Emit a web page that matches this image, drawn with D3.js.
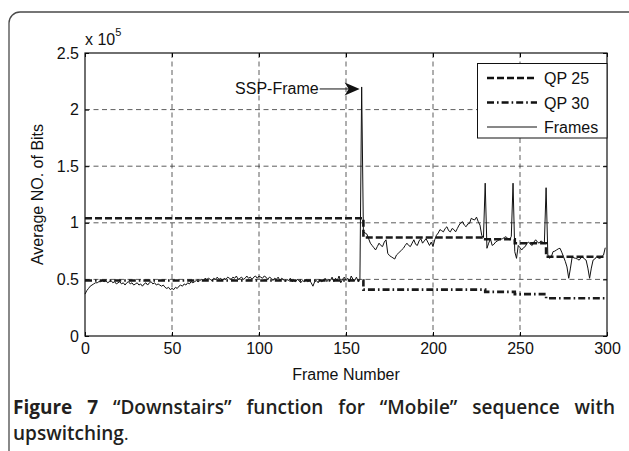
<!DOCTYPE html>
<html>
<head>
<meta charset="utf-8">
<script src="https://cdn.jsdelivr.net/npm/d3@7/dist/d3.min.js"></script>
<style>
  body { margin: 0; background: #fff; }
  svg { display: block; }
</style>
</head>
<body>
<svg width="629" height="451"></svg>
<script>
// values in units of 1e5 bits
const frameValues = [
  0.37, 0.40, 0.42, 0.44, 0.45, 0.46, 0.47, 0.47, 0.48, 0.48,
  0.49, 0.48, 0.49, 0.47, 0.48, 0.49, 0.47, 0.48, 0.46, 0.47,
  0.48, 0.46, 0.47, 0.45, 0.47, 0.48, 0.46, 0.47, 0.45, 0.46,
  0.47, 0.45, 0.46, 0.44, 0.46, 0.47, 0.45, 0.47, 0.48, 0.46,
  0.47, 0.45, 0.46, 0.45, 0.44, 0.45, 0.43, 0.42, 0.43, 0.41,
  0.42, 0.41, 0.43, 0.42, 0.44, 0.45, 0.44, 0.46, 0.45, 0.47,
  0.46, 0.48, 0.47, 0.48, 0.49, 0.48, 0.49, 0.50, 0.49, 0.51,
  0.50, 0.51, 0.50, 0.49, 0.51, 0.50, 0.52, 0.50, 0.51, 0.49,
  0.51, 0.50, 0.52, 0.51, 0.50, 0.52, 0.51, 0.53, 0.50, 0.51,
  0.52, 0.50, 0.51, 0.53, 0.51, 0.52, 0.50, 0.52, 0.53, 0.51,
  0.53, 0.52, 0.51, 0.53, 0.52, 0.50, 0.52, 0.51, 0.49, 0.51,
  0.50, 0.52, 0.49, 0.51, 0.50, 0.48, 0.50, 0.49, 0.51, 0.48,
  0.49, 0.48, 0.50, 0.49, 0.47, 0.49, 0.48, 0.50, 0.48, 0.49,
  0.47, 0.44, 0.48, 0.49, 0.47, 0.50, 0.48, 0.49, 0.51, 0.48,
  0.50, 0.49, 0.52, 0.48, 0.51, 0.49, 0.53, 0.47, 0.50, 0.52,
  0.49, 0.51, 0.48, 0.53, 0.50, 0.49, 0.52, 0.48, 0.50, 2.20,
  0.92, 0.91, 0.90, 0.86, 0.82, 0.80, 0.78, 0.76, 0.79, 0.82,
  0.80, 0.79, 0.83, 0.85, 0.73, 0.71, 0.70, 0.69, 0.68, 0.715,
  0.73, 0.745, 0.76, 0.775, 0.80, 0.82, 0.80, 0.79, 0.82, 0.85,
  0.81, 0.80, 0.84, 0.86, 0.82, 0.84, 0.86, 0.83, 0.80, 0.83,
  0.79, 0.85, 0.89, 0.91, 0.94, 0.93, 0.92, 0.95, 0.965, 0.93,
  0.92, 0.95, 0.94, 0.92, 0.95, 0.98, 1.00, 1.01, 0.98, 0.965,
  0.99, 0.995, 1.04, 1.03, 1.025, 1.05, 1.01, 0.98, 0.89, 0.87,
  1.35, 0.775, 0.82, 0.86, 0.80, 0.81, 0.83, 0.84, 0.85, 0.855,
  0.86, 0.87, 0.877, 0.86, 0.85, 0.88, 1.35, 0.745, 0.686, 0.80,
  0.78, 0.76, 0.78, 0.79, 0.82, 0.83, 0.81, 0.80, 0.83, 0.85,
  0.83, 0.82, 0.84, 0.83, 0.82, 1.31, 0.715, 0.686, 0.70, 0.745,
  0.75, 0.76, 0.77, 0.775, 0.74, 0.70, 0.66, 0.61, 0.51, 0.60,
  0.70, 0.69, 0.686, 0.68, 0.67, 0.69, 0.70, 0.68, 0.67, 0.60,
  0.51, 0.60, 0.67, 0.68, 0.70, 0.69, 0.686, 0.70, 0.715, 0.78
]

// step changes of the average lines
const qpFrames = [0, 160, 230, 247, 265, 299]
const qp25 = [1.04, 0.87, 0.855, 0.82, 0.70, 0.70]
const qp30 = [0.49, 0.41, 0.39, 0.37, 0.333, 0.333]

const xTicks = [0, 50, 100, 150, 200, 250, 300]
const yTicks = [0, 0.5, 1, 1.5, 2, 2.5]
const yTickLabels = ['0', '0.5', '1', '1.5', '2', '2.5']

const legendItems = [
  { label: 'QP 25', dash: '7,3', width: 2.6 },
  { label: 'QP 30', dash: '7,3,1.6,3', width: 2.6 },
  { label: 'Frames', dash: null, width: 1 },
]

const ssp = { frame: 159, value: 2.2, label: 'SSP-Frame' }

const font = '"Liberation Sans", Arial, sans-serif'
const fs = 16
const svg = d3.select('svg')

// outer rounded frame of the figure
svg.append('rect')
  .attr('x', 9).attr('y', 12)
  .attr('width', 640).attr('height', 460)
  .attr('rx', 11)
  .attr('fill', 'none')
  .attr('stroke', '#4a4a4a')
  .attr('stroke-width', 1.3)

const pl = 85, pr = 607, pt = 53, pb = 336
const x = d3.scaleLinear().domain([0, 300]).range([pl, pr])
const y = d3.scaleLinear().domain([0, 2.5]).range([pb, pt])

// grid
const grid = svg.append('g')
grid.selectAll('line.gx')
  .data(xTicks.slice(1, -1))
  .join('line')
  .attr('class', 'gx')
  .attr('x1', d => x(d)).attr('x2', d => x(d))
  .attr('y1', pt).attr('y2', pb)
grid.selectAll('line.gy')
  .data(yTicks.slice(1, -1))
  .join('line')
  .attr('class', 'gy')
  .attr('x1', pl).attr('x2', pr)
  .attr('y1', d => y(d)).attr('y2', d => y(d))
grid.selectAll('line')
  .attr('stroke', '#333')
  .attr('stroke-width', 0.8)
  .attr('stroke-dasharray', '5,3.5')

// axes with inward ticks
const axisStyle = g => {
  g.select('.domain').remove()
  g.selectAll('.tick line').attr('stroke', '#000')
  g.selectAll('.tick text')
    .attr('font-family', font)
    .attr('font-size', fs)
    .attr('fill', '#111')
}
svg.append('g')
  .attr('transform', `translate(0,${pb})`)
  .call(d3.axisBottom(x).tickValues(xTicks).tickSizeInner(-4).tickPadding(7).tickFormat(d3.format('d')))
  .call(axisStyle)
svg.append('g')
  .attr('transform', `translate(${pl},0)`)
  .call(d3.axisLeft(y).tickValues(yTicks).tickSizeInner(-4).tickPadding(6)
    .tickFormat((d, i) => yTickLabels[i]))
  .call(axisStyle)
svg.append('g')
  .attr('transform', `translate(0,${pt})`)
  .call(d3.axisTop(x).tickValues(xTicks).tickSizeInner(-4).tickFormat(''))
  .call(axisStyle)
svg.append('g')
  .attr('transform', `translate(${pr},0)`)
  .call(d3.axisRight(y).tickValues(yTicks).tickSizeInner(-4).tickFormat(''))
  .call(axisStyle)

// series
const stepLine = d3.line()
  .x(d => x(d[0]))
  .y(d => y(d[1]))
  .curve(d3.curveStepAfter)

svg.append('path')
  .attr('d', stepLine(qpFrames.map((f, i) => [f, qp25[i]])))
  .attr('fill', 'none')
  .attr('stroke', '#1a1a1a')
  .attr('stroke-width', legendItems[0].width)
  .attr('stroke-dasharray', legendItems[0].dash)

svg.append('path')
  .attr('d', stepLine(qpFrames.map((f, i) => [f, qp30[i]])))
  .attr('fill', 'none')
  .attr('stroke', '#1a1a1a')
  .attr('stroke-width', legendItems[1].width)
  .attr('stroke-dasharray', legendItems[1].dash)

const frameLine = d3.line()
  .x((d, i) => x(i))
  .y(d => y(d))

svg.append('path')
  .attr('d', frameLine(frameValues))
  .attr('fill', 'none')
  .attr('stroke', '#111')
  .attr('stroke-width', 1)
  .attr('stroke-linejoin', 'round')

// plot box
svg.append('rect')
  .attr('x', pl).attr('y', pt)
  .attr('width', pr - pl).attr('height', pb - pt)
  .attr('fill', 'none')
  .attr('stroke', '#111')
  .attr('stroke-width', 1.2)

// SSP-Frame annotation
const tipX = x(ssp.frame) - 2
const tipY = y(ssp.value) + 2
svg.append('line')
  .attr('x1', tipX - 40).attr('x2', tipX - 10)
  .attr('y1', tipY).attr('y2', tipY)
  .attr('stroke', '#111').attr('stroke-width', 1)
svg.append('path')
  .attr('d', `M${tipX},${tipY} L${tipX - 15},${tipY - 6.5} L${tipX - 11},${tipY} L${tipX - 15},${tipY + 6.5} Z`)
  .attr('fill', '#111')
svg.append('text')
  .attr('x', tipX - 41).attr('y', tipY + 5.5)
  .attr('text-anchor', 'end')
  .attr('font-family', font).attr('font-size', fs)
  .attr('fill', '#111')
  .text(ssp.label)

// legend
const legend = svg.append('g')
legend.append('rect')
  .attr('x', 477.5).attr('y', 63.5)
  .attr('width', pr - 477.5).attr('height', 74.5)
  .attr('fill', '#fff')
  .attr('stroke', '#111')
  .attr('stroke-width', 1)
legendItems.forEach((item, i) => {
  const ly = 78 + i * 24.5
  legend.append('line')
    .attr('x1', 487).attr('x2', 537)
    .attr('y1', ly).attr('y2', ly)
    .attr('stroke', '#111')
    .attr('stroke-width', item.width)
    .attr('stroke-dasharray', item.dash)
  legend.append('text')
    .attr('x', 544).attr('y', ly + 6)
    .attr('font-family', font).attr('font-size', fs)
    .attr('fill', '#111')
    .text(item.label)
})

// axis titles
svg.append('text')
  .attr('x', (pl + pr) / 2).attr('y', 380)
  .attr('text-anchor', 'middle')
  .attr('font-family', font).attr('font-size', fs)
  .attr('fill', '#111')
  .text('Frame Number')

svg.append('text')
  .attr('transform', `translate(43,${(pt + pb) / 2}) rotate(-90)`)
  .attr('text-anchor', 'middle')
  .attr('font-family', font).attr('font-size', fs)
  .attr('fill', '#111')
  .text('Average NO. of Bits')

const expo = svg.append('text')
  .attr('x', 85).attr('y', 45)
  .attr('font-family', font).attr('font-size', fs)
  .attr('fill', '#111')
expo.append('tspan').text('x 10')
expo.append('tspan').attr('dy', -9).attr('font-size', 11).text('5')

// caption, first line justified
const capFont = '"Open Sans", "Noto Sans", sans-serif'
const capSize = 19
const capWords = ['“Downstairs”', 'function', 'for', '“Mobile”', 'sequence', 'with']
const cap1 = svg.append('text')
  .attr('x', 13).attr('y', 414)
  .attr('font-family', capFont)
  .style('font-size', capSize + 'px')
  .attr('fill', '#231f20')
cap1.append('tspan').attr('font-weight', 700).text('Figure 7 ')
cap1.append('tspan').attr('font-weight', 600).text(capWords.join(' '))
const w = cap1.node().getComputedTextLength()
const gaps = capWords.length + 1
cap1.style('word-spacing', Math.max(0, (615 - 13 - w) / gaps) + 'px')

const cap2 = svg.append('text')
  .attr('x', 13).attr('y', 440)
  .attr('font-family', capFont)
  .style('font-size', capSize + 'px')
  .attr('fill', '#231f20')
cap2.append('tspan').attr('font-weight', 600).text('upswitching')
cap2.append('tspan').attr('font-weight', 400).text('.')
</script>
</body>
</html>
